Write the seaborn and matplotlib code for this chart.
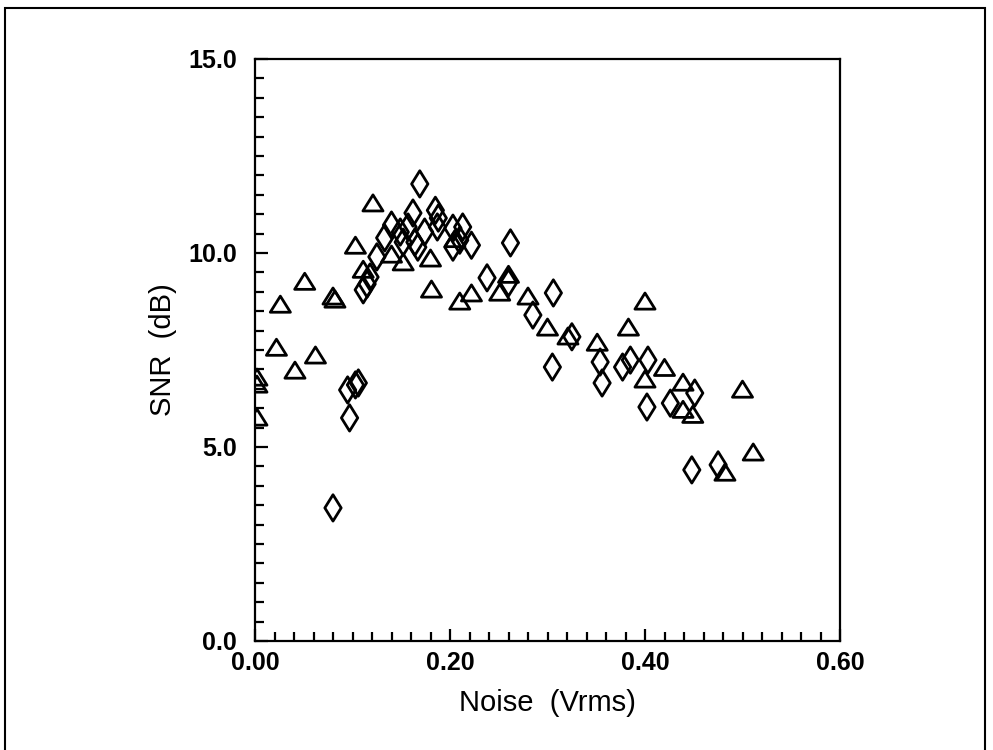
import numpy as np
import pandas as pd
import matplotlib
matplotlib.use("Agg")
import matplotlib.pyplot as plt
from matplotlib.path import Path
from matplotlib.ticker import MultipleLocator, FormatStrFormatter
from matplotlib.patches import Rectangle
import seaborn as sns

# ---- data ----
tri_x = [0.002, 0.002, 0.002, 0.022, 0.026, 0.041, 0.051, 0.062, 0.080, 0.082,
         0.103, 0.121, 0.111, 0.140, 0.152, 0.180, 0.181, 0.210, 0.222, 0.205,
         0.251, 0.260, 0.280, 0.300, 0.321, 0.351, 0.383, 0.400, 0.420, 0.400,
         0.439, 0.439, 0.449, 0.500, 0.511, 0.482]
tri_y = [6.78, 6.60, 5.75, 7.55, 8.66, 6.96, 9.25, 7.35, 8.87, 8.79,
         10.18, 11.27, 9.56, 9.95, 9.75, 9.85, 9.05, 8.74, 8.95, 10.35,
         8.97, 9.43, 8.87, 8.07, 7.84, 7.68, 8.07, 8.74, 7.03, 6.73,
         6.65, 5.95, 5.82, 6.47, 4.85, 4.33]

dia_x = [0.080, 0.097, 0.095, 0.103, 0.106, 0.111, 0.115, 0.118, 0.125, 0.133,
         0.140, 0.149, 0.152, 0.157, 0.162, 0.164, 0.167, 0.174, 0.169, 0.185,
         0.188, 0.187, 0.203, 0.213, 0.203, 0.210, 0.222, 0.262, 0.238, 0.260,
         0.285, 0.306, 0.325, 0.305, 0.354, 0.356, 0.377, 0.385, 0.403, 0.402,
         0.426, 0.451, 0.448, 0.475]
dia_y = [3.43, 5.75, 6.47, 6.60, 6.65, 9.05, 9.20, 9.38, 9.90, 10.39,
         10.72, 10.54, 10.28, 10.67, 11.03, 10.28, 10.15, 10.54, 11.78, 11.10,
         10.90, 10.67, 10.64, 10.67, 10.15, 10.33, 10.20, 10.26, 9.36, 9.23,
         8.40, 8.97, 7.84, 7.06, 7.19, 6.65, 7.06, 7.24, 7.24, 6.03,
         6.13, 6.39, 4.41, 4.54]

x_ticks = [0.0, 0.2, 0.4, 0.6]
y_ticks = [0.0, 5.0, 10.0, 15.0]

df = pd.DataFrame({
    "x": tri_x + dia_x,
    "y": tri_y + dia_y,
    "series": ["tri"] * len(tri_x) + ["dia"] * len(dia_x),
})

sns.set_style("white")
plt.rcParams["font.family"] = ["Liberation Sans", "DejaVu Sans"]

fig = plt.figure(figsize=(9.93, 7.5), dpi=100)
ax = fig.add_axes([255 / 993, 1 - 641 / 750, 585 / 993, 582 / 750])

tri_path = Path([(-1, -0.72), (1, -0.72), (0, 0.88), (-1, -0.72)],
                [Path.MOVETO, Path.LINETO, Path.LINETO, Path.CLOSEPOLY])
dia_path = Path([(0, 1), (0.62, 0), (0, -1), (-0.62, 0), (0, 1)],
                [Path.MOVETO, Path.LINETO, Path.LINETO, Path.LINETO, Path.CLOSEPOLY])

sub = df[df.series == "tri"]
sns.scatterplot(data=sub, x="x", y="y", marker=tri_path, s=210,
                facecolor="none", edgecolor="black", linewidth=2.0, ax=ax, legend=False)
sub = df[df.series == "dia"]
sns.scatterplot(data=sub, x="x", y="y", marker=dia_path, s=360,
                facecolor="none", edgecolor="black", linewidth=2.0, ax=ax, legend=False)

ax.set_xlim(0, 0.6)
ax.set_ylim(0, 15)
ax.set_xticks(x_ticks)
ax.set_yticks(y_ticks)
ax.xaxis.set_major_formatter(FormatStrFormatter("%.2f"))
ax.yaxis.set_major_formatter(FormatStrFormatter("%.1f"))
ax.xaxis.set_minor_locator(MultipleLocator(0.02))
ax.yaxis.set_minor_locator(MultipleLocator(0.5))

ax.tick_params(axis="both", which="major", direction="in", length=9, width=1.6,
               bottom=True, left=True, top=False, right=False,
               labelsize=18, color="black", labelcolor="black")
ax.tick_params(axis="both", which="minor", direction="in", length=6.5, width=1.6,
               bottom=True, left=True, top=False, right=False, color="black")
ax.tick_params(axis="x", which="major", pad=7)
ax.tick_params(axis="y", which="major", pad=13)
for lab in ax.get_xticklabels() + ax.get_yticklabels():
    lab.set_fontweight("bold")

for sp in ax.spines.values():
    sp.set_visible(True)
    sp.set_color("black")
    sp.set_linewidth(1.6)

ax.set_xlabel("Noise  (Vrms)", fontsize=21, labelpad=10, color="black")
ax.set_ylabel("SNR  (dB)", fontsize=21, labelpad=8, color="black")

# outer frame
fig.add_artist(Rectangle((5 / 993, -0.02), 980 / 993, 1.02 - 8 / 750,
                         transform=fig.transFigure, fill=False,
                         edgecolor="black", linewidth=1.5))

fig.savefig("out.png", dpi=100)
